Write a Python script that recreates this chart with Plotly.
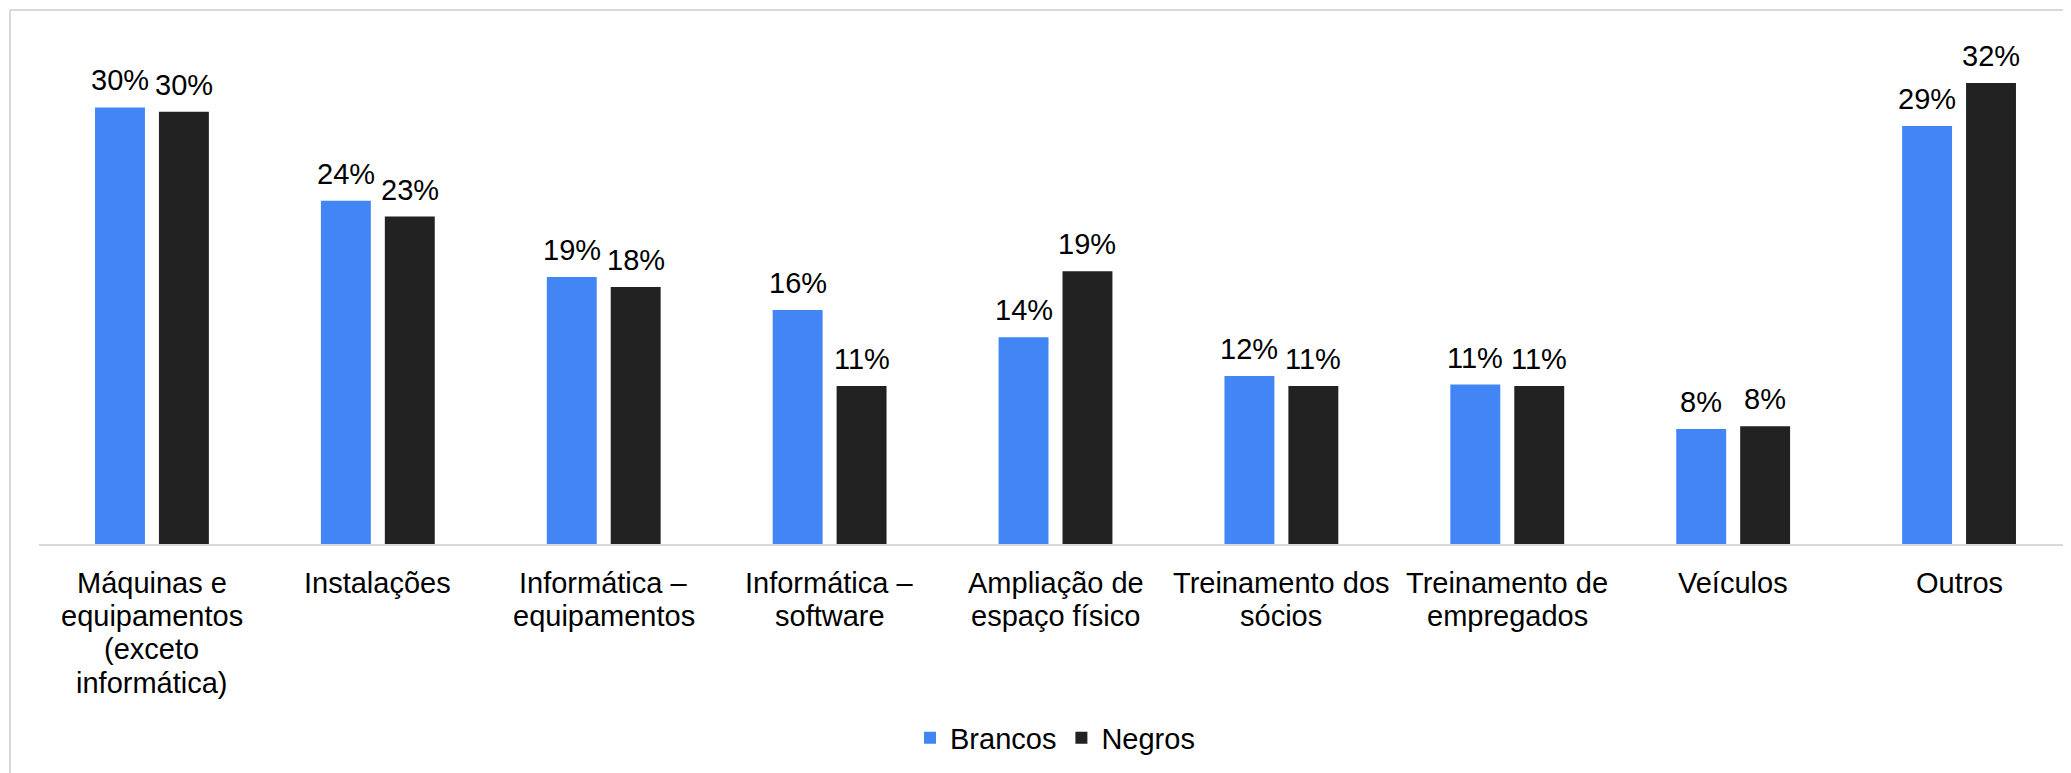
import plotly.graph_objects as go

categories = [
    "Máquinas e<br>equipamentos<br>(exceto<br>informática)",
    "Instalações",
    "Informática –<br>equipamentos",
    "Informática –<br>software",
    "Ampliação de<br>espaço físico",
    "Treinamento dos<br>sócios",
    "Treinamento de<br>empregados",
    "Veículos",
    "Outros",
]
brancos = [30.4, 23.9, 18.6, 16.3, 14.4, 11.7, 11.1, 8.0, 29.1]
negros = [30.1, 22.8, 17.9, 11.0, 19.0, 11.0, 11.0, 8.2, 32.1]

FONT = "Liberation Sans, Arial, sans-serif"

# page body has an 8px margin; figure coordinates are offset accordingly
W, H = 2071, 773
ML, MR, MT, MB = 31, 7, 33, 237
PW = W - ML - MR
PH = H - MT - MB
BARGAP, GROUPGAP = 0.434, 0.219
LINE_STEP = 33.4

fig = go.Figure()
fig.add_trace(go.Bar(
    name="Brancos", x=categories, y=brancos,
    marker=dict(color="#4285f4", line=dict(width=0)),
))
fig.add_trace(go.Bar(
    name="Negros", x=categories, y=negros,
    marker=dict(color="#222222", line=dict(width=0)),
))

slot = PW / len(categories) * (1 - BARGAP) / 2
annotations = []
for series, shift in ((brancos, -slot / 2), (negros, slot / 2)):
    for c, v in zip(categories, series):
        annotations.append(dict(
            x=c, y=v, xref="x", yref="y", text=f"{v:.0f}%", showarrow=False,
            xanchor="center", yanchor="bottom", xshift=shift, yshift=9,
            font=dict(size=29, family=FONT, color="#000000"),
        ))
# category labels, one line each (tighter line spacing than plotly ticks)
for c in categories:
    for i, line in enumerate(c.split("<br>")):
        annotations.append(dict(
            x=c, y=0, xref="x", yref="paper", text=line, showarrow=False,
            xanchor="center", yanchor="top", yshift=-(20.5 + LINE_STEP * i),
            font=dict(size=29, family=FONT, color="#000000"),
        ))

fig.update_layout(
    width=W, height=H,
    margin=dict(l=ML, r=MR, t=MT, b=MB, autoexpand=False),
    paper_bgcolor="white", plot_bgcolor="white",
    barmode="group", bargap=BARGAP, bargroupgap=GROUPGAP,
    font=dict(family=FONT, size=29, color="#000000"),
    showlegend=True,
    legend=dict(orientation="h", x=(1047 - ML) / PW, xanchor="center",
                y=(536 - 730) / PH, yanchor="middle",
                font=dict(size=29, family=FONT), itemsizing="constant",
                traceorder="normal"),
    annotations=annotations,
    shapes=[dict(type="rect", xref="paper", yref="paper",
                 x0=(2 - ML) / PW, x1=(W + 30 - ML) / PW,
                 y0=(536 - H - 30) / PH, y1=(536 - 2) / PH,
                 line=dict(color="#d9d9d9", width=2), fillcolor="rgba(0,0,0,0)", layer="below")],
)
fig.update_xaxes(showline=True, linecolor="#d9d9d9", linewidth=2, ticks="",
                 showticklabels=False, automargin=False, showgrid=False)
fig.update_yaxes(range=[0, PH / 14.36], visible=False, showgrid=False)

fig.write_html("out.html")
